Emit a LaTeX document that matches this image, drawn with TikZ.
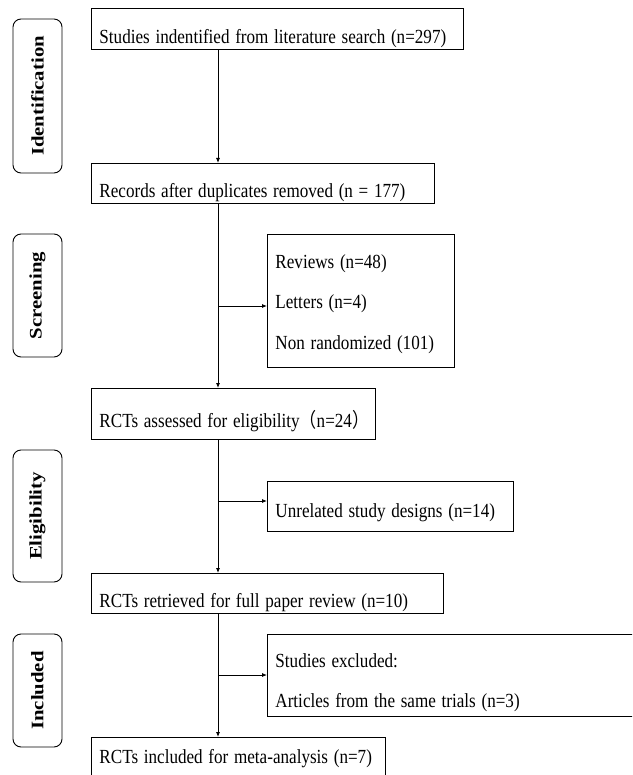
\documentclass[tikz,border=0pt]{standalone}
\usepackage{fontspec}
\usepackage{graphicx}
\setmainfont{Liberation Serif}
\newfontfamily\cjk{Noto Sans CJK SC}
\newcommand\nar[1]{\scalebox{0.855}[1]{#1}}
\newcommand\tall[1]{\scalebox{1.18}[1]{#1}}
\usetikzlibrary{arrows.meta,positioning}
\tikzset{
  rec/.style = {draw, line width=0.9pt, rectangle, anchor=north west, inner xsep=8pt, inner ysep=0pt, align=left, font=\fontsize{20}{40.5}\selectfont},
  phase/.style = {draw, line width=0.9pt, rectangle, rounded corners=8pt, rotate=90, minimum height=49pt, inner sep=0pt, font=\bfseries\fontsize{17.6}{20}\selectfont},
  arrow/.style = {line width=0.8pt, -{Latex[length=5pt,width=4pt]}}
}

\begin{document}
\begin{tikzpicture}[x=1pt, y=-1pt]
  \useasboundingbox (0,0) rectangle (632,775);
  \clip (0,0) rectangle (632,775);
  % phases
  \node[phase, minimum width=154pt] (ident) at (37.5,96) {\tall{Identification}};
  \node[phase, minimum width=123pt] (screen) at (37.5,295.5) {\tall{Screening}};
  \node[phase, minimum width=132pt] (elig) at (37.5,516) {\tall{Eligibility}};
  \node[phase, minimum width=113pt] (incl) at (37.5,690.5) {\tall{Included}};
  % main flow
  \node[rec, text width=356pt, text height=35pt, text depth=6pt] (s1) at (91,8) {\nar{Studies indentified from literature search (n=297)}};
  \node[rec, text width=327pt, text height=34pt, text depth=6pt] (s2) at (91,163) {\nar{Records after duplicates removed (n = 177)}};
  \node[rec, text width=268pt, text height=39pt, text depth=12pt] (s3) at (91,388) {\nar{RCTs assessed for eligibility{\cjk （}n=24{\cjk ）}}};
  \node[rec, text width=336pt, text height=34pt, text depth=6pt] (s4) at (91,573) {\nar{RCTs retrieved for full paper review (n=10)}};
  \node[rec, text width=278pt, text height=26pt, text depth=60pt] (s5) at (91,737) {\nar{RCTs included for meta-analysis (n=7)}};
  % exclusions
  \node[rec, text width=171pt, text height=34pt, text depth=99pt] (ex1) at (267,234) {\nar{Reviews (n=48)}\\\nar{Letters (n=4)}\\\nar{Non randomized (101)}};
  \node[rec, text width=230pt, text height=36pt, text depth=14pt] (ex2) at (267,481) {\nar{Unrelated study designs (n=14)}};
  \node[rec, text width=377pt, text height=33pt, text depth=49pt] (ex3) at (267,634) {\nar{Studies excluded:}\\\nar{Articles from the same trials (n=3)}};
  % arrows
  \coordinate (trunk) at (218,0);
  \coordinate (j1) at (218,306);
  \coordinate (j2) at (218,501);
  \coordinate (j3) at (218,675);
  \draw[arrow] (s1.south -| trunk) -- (s2.north -| trunk);
  \draw[arrow] (s2.south -| trunk) -- (s3.north -| trunk);
  \draw[arrow] (s3.south -| trunk) -- (s4.north -| trunk);
  \draw[arrow] (s4.south -| trunk) -- (s5.north -| trunk);
  \draw[arrow] (j1) -- (j1 -| ex1.west);
  \draw[arrow] (j2) -- (j2 -| ex2.west);
  \draw[arrow] (j3) -- (j3 -| ex3.west);
\end{tikzpicture}
\end{document}
